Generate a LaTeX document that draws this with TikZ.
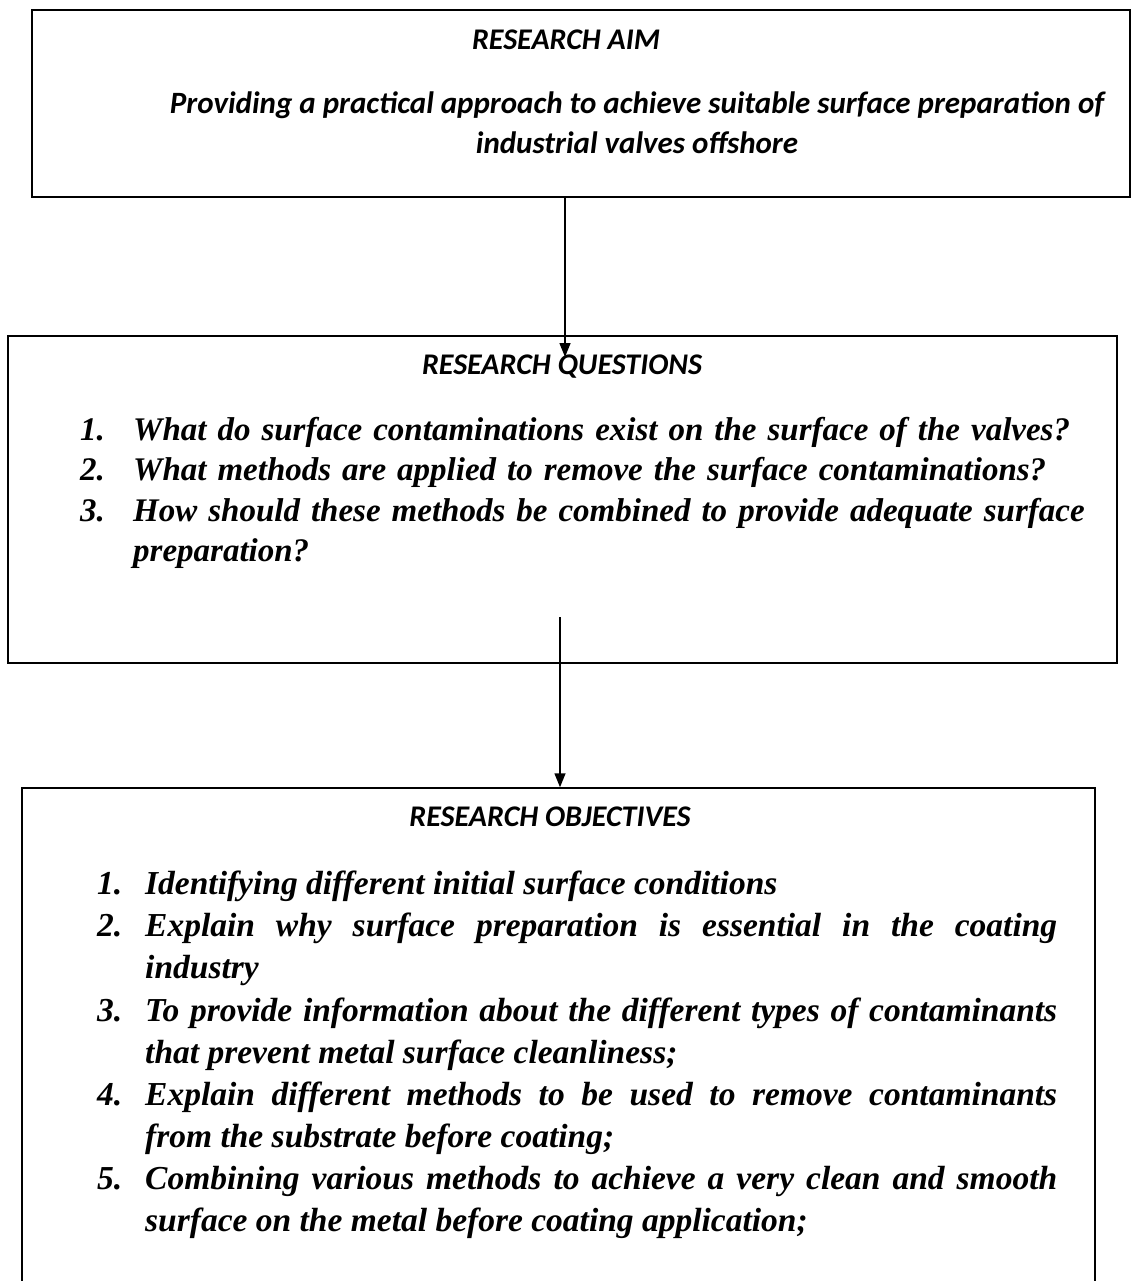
\documentclass[tikz,border=0pt]{standalone}
\usepackage{fontspec}
\setmainfont{Liberation Serif}
\newfontfamily\calfont{Carlito}
\usetikzlibrary{arrows.meta,calc}

\tikzset{
  framebox/.style={draw,line width=1.5pt,inner sep=0pt},
  headtext/.style={font={\calfont\bfseries\itshape\fontsize{30pt}{36pt}\selectfont}},
  aimtext/.style={font={\calfont\bfseries\itshape\fontsize{31pt}{40pt}\selectfont},align=center},
  listtext/.style={font={\bfseries\itshape\fontsize{33pt}{40.5pt}\selectfont},inner sep=0pt,anchor=north west},
  flow/.style={line width=1.5pt,-{Triangle[length=14pt,width=11pt]}}
}
\newcommand{\numitem}[3]{\noindent\hangindent=#1\hangafter=1\makebox[#1][l]{#2}#3\par}

\begin{document}
\begin{tikzpicture}[x=1pt,y=-1pt]
          \clip (0,0) rectangle (1133,1281);
          % frames
          \node[framebox,minimum width=1098pt,minimum height=187pt] (aim) at (581,103.5) {};
          \node[framebox,minimum width=1109pt,minimum height=327pt] (quest) at (562.5,499.5) {};
          \node[framebox,minimum width=1073pt,minimum height=507pt] (obj) at (558.5,1041.5) {};
          % texts
          \node[headtext] (aimhead) at (566,40) {RESEARCH AIM};
          \node[aimtext] (aimbody) at (637,123)
            {Providing a practical approach to achieve suitable surface preparation of\\
             industrial valves offshore};
          \node[headtext] (questhead) at (562,367) {RESEARCH QUESTIONS};
          \node[listtext,text width=1020pt] (questlist) at (80,417) {\raggedright
            \numitem{53pt}{1.}{What do surface contaminations exist on the surface of the valves?}
            \numitem{53pt}{2.}{What methods are applied to remove the surface contaminations?}
            \numitem{53pt}{3.}{How should these methods be combined to provide adequate surface\newline preparation?}};
          \node[headtext] (objhead) at (550,817) {RESEARCH OBJECTIVES};
          \node[listtext,font={\bfseries\itshape\fontsize{33.5pt}{42.1pt}\selectfont},text width=960pt,align=justify] (objlist) at (97,871) {%
            \numitem{48pt}{1.}{Identifying different initial surface conditions}
            \numitem{48pt}{2.}{Explain why surface preparation is essential in the coating\linebreak industry}
            \numitem{48pt}{3.}{To provide information about the different types of contaminants\linebreak that prevent metal surface cleanliness;}
            \numitem{48pt}{4.}{Explain different methods to be used to remove contaminants\linebreak from the substrate before coating;}
            \numitem{48pt}{5.}{Combining various methods to achieve a very clean and smooth\linebreak surface on the metal before coating application;}};
          % arrows
          \coordinate (questin) at (565,357);
          \coordinate (questout) at (560,617);
          \draw[flow] (aim.south -| questin) -- (questin);
          \draw[flow] (questout) -- (questout |- obj.north);
\end{tikzpicture}
\end{document}
